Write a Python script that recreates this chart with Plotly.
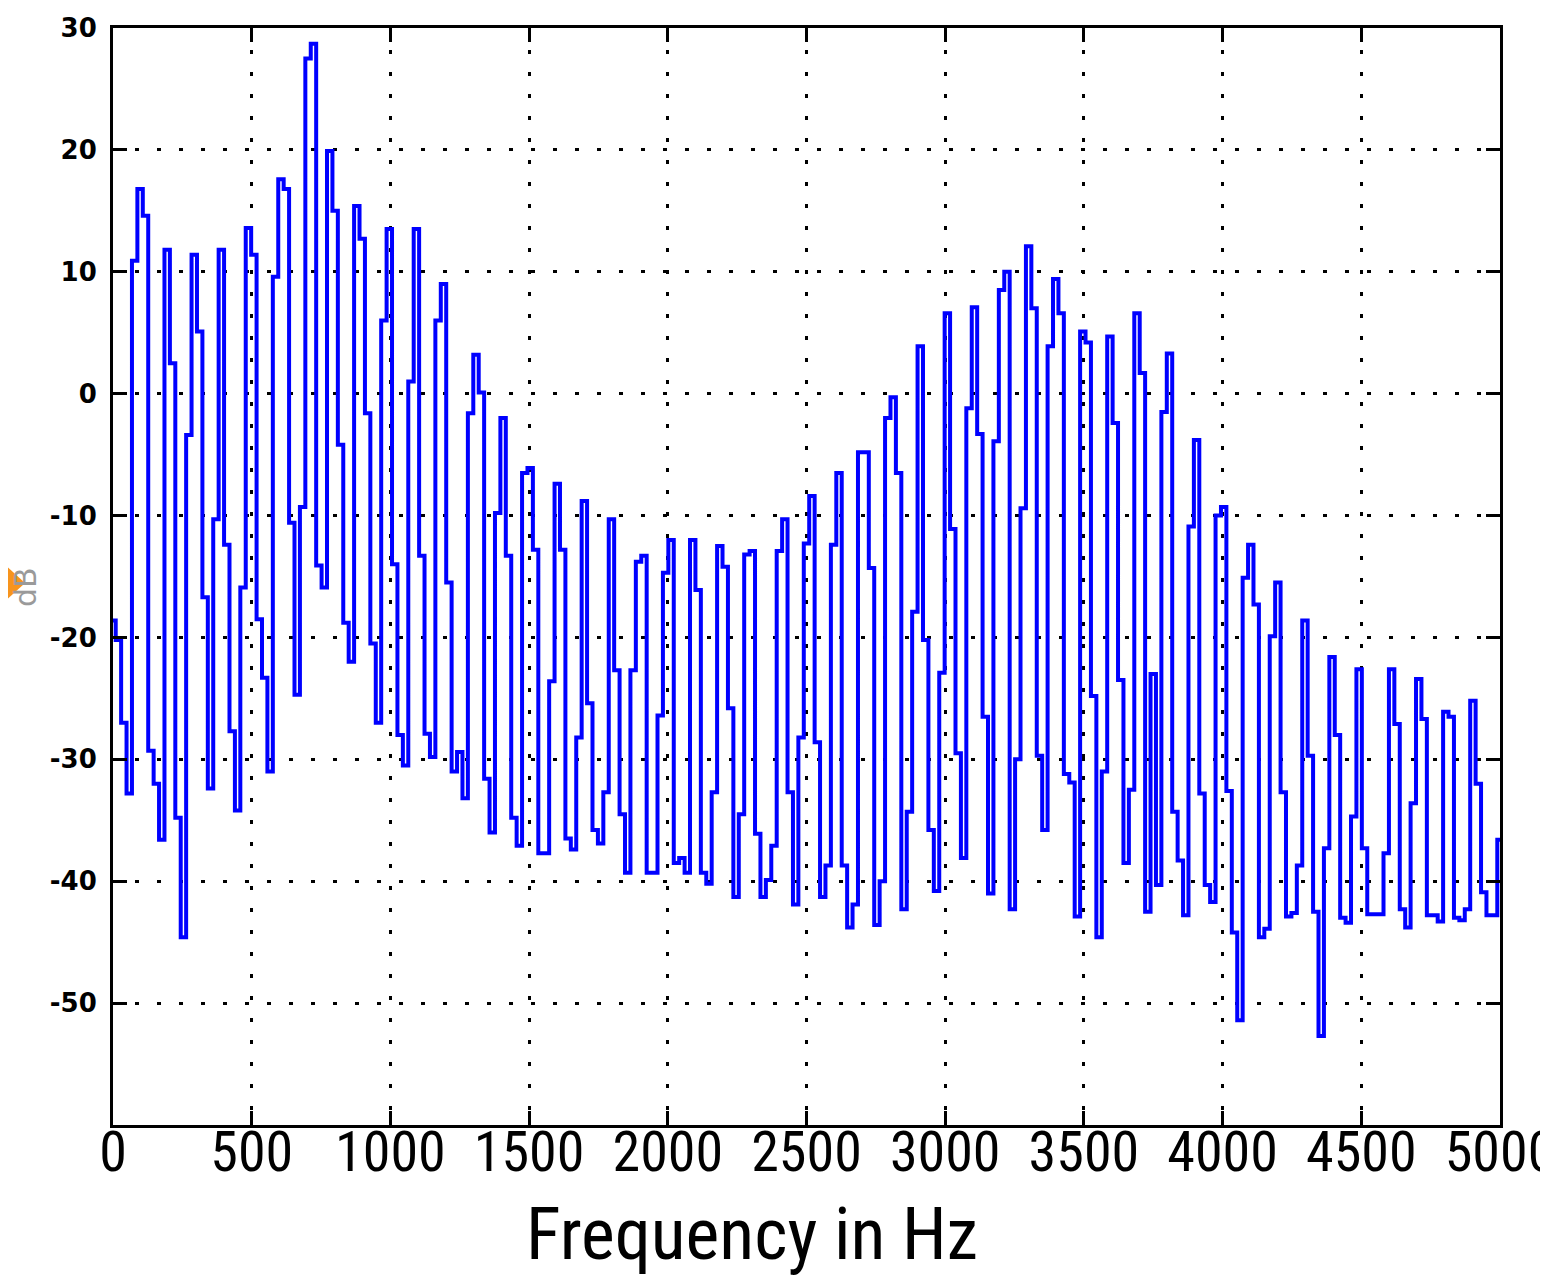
import numpy as np
import plotly.graph_objects as go

# Spectrum magnitude (dB), one value per FFT bin
# (bin spacing 5000/256 Hz), split into 1 kHz blocks.
db_0000_1000 = [
    -18.6, -20.2, -27.0, -32.8, 10.9, 16.8, 14.6, -29.3, -32.0, -36.6,
    11.8, 2.5, -34.8, -44.6, -3.4, 11.4, 5.1, -16.7, -32.4, -10.3,
    11.8, -12.4, -27.7, -34.2, -15.9, 13.6, 11.4, -18.5, -23.3, -31.0,
    9.6, 17.6, 16.8, -10.6, -24.7, -9.3, 27.5, 28.7, -14.1, -15.9,
    19.9, 15.0, -4.2, -18.8, -22.0, 15.4, 12.7, -1.6, -20.5, -27.0,
    6.0, 13.5,
]
db_1000_2000 = [
    -14.0, -28.0, -30.5, 1.0, 13.5, -13.3, -27.9, -29.8,
    6.0, 9.0, -15.5, -31.0, -29.4, -33.2, -1.6, 3.2, 0.1, -31.6,
    -36.0, -9.8, -2.0, -13.3, -34.8, -37.1, -6.5, -6.1, -12.8, -37.7,
    -37.7, -23.6, -7.4, -12.8, -36.5, -37.4, -28.2, -8.8, -25.4, -35.8,
    -36.9, -32.7, -10.3, -22.7, -34.5, -39.3, -22.7, -13.8, -13.3, -39.3,
    -39.3, -26.4, -14.7,
]
db_2000_3000 = [
    -12.0, -38.5, -38.1, -39.3, -12.0, -16.1, -39.3,
    -40.2, -32.7, -12.5, -14.2, -25.8, -41.3, -34.5, -13.2, -12.9, -36.1,
    -41.3, -39.9, -37.1, -12.9, -10.3, -32.7, -41.9, -28.2, -12.3, -8.4,
    -28.6, -41.3, -38.7, -12.4, -6.5, -38.7, -43.8, -41.9, -4.8, -4.8,
    -14.3, -43.6, -40.0, -2.0, -0.3, -6.5, -42.3, -34.3, -17.9, 3.9,
    -20.2, -35.8, -40.8, -22.9,
]
db_3000_4000 = [
    6.6, -11.1, -29.5, -38.1, -1.2, 7.1,
    -3.3, -26.5, -41.0, -3.9, 8.5, 10.0, -42.3, -30.0, -9.4, 12.1,
    7.0, -29.7, -35.8, 3.9, 9.4, 6.6, -31.2, -31.9, -42.9, 5.1,
    4.2, -24.8, -44.6, -31.0, 4.7, -2.4, -23.5, -38.5, -32.5, 6.6,
    1.7, -42.5, -23.0, -40.3, -1.5, 3.3, -34.3, -38.3, -42.8, -10.9,
    -3.8, -32.8, -40.3, -41.7, -10.0,
]
db_4000_5000 = [
    -9.3, -32.6, -44.2, -51.4, -15.1,
    -12.4, -17.3, -44.6, -43.9, -19.9, -15.5, -32.7, -42.9, -42.6, -38.7,
    -18.6, -29.7, -42.5, -52.7, -37.3, -21.6, -28.0, -43.0, -43.4, -34.7,
    -22.6, -37.3, -42.7, -42.7, -42.7, -37.7, -22.6, -27.1, -42.3, -43.8,
    -33.6, -23.4, -26.7, -42.8, -42.8, -43.3, -26.1, -26.5, -43.0, -43.2,
    -42.3, -25.2, -32.0, -40.9, -42.8, -42.8, -36.6,
]

fs_half = 5000.0      # upper frequency (Hz)
n_fft_half = 256      # bins up to fs/2

x_ticks = [0, 500, 1000, 1500, 2000, 2500, 3000, 3500, 4000, 4500, 5000]
y_ticks = [30, 20, 10, 0, -10, -20, -30, -40, -50]
x_title = "Frequency in Hz"
y_title = "dB"

level_db = db_0000_1000 + db_1000_2000 + db_2000_3000 + db_3000_4000 + db_4000_5000
assert len(level_db) == n_fft_half + 1
freq_hz = np.arange(len(level_db)) * fs_half / n_fft_half

fig = go.Figure(
    go.Scatter(x=freq_hz, y=level_db, mode="lines",
               line=dict(color="#0000ff", width=4, shape="hvh"), hoverinfo="skip")
)

narrow = "Liberation Sans Narrow, Arial Narrow, Roboto Condensed, Liberation Sans, sans-serif"

axis_common = dict(
    showline=True, linewidth=3, linecolor="black", mirror="allticks",
    ticks="inside", ticklen=14, tickwidth=3, tickcolor="black",
    showgrid=True, gridcolor="black", gridwidth=3, griddash="4px,18px",
    zeroline=False, automargin=False, ticklabeloverflow="allow",
)

fig.update_layout(
    width=1540, height=1269,
    margin=dict(l=105, r=48, t=20, b=152),
    paper_bgcolor="white", plot_bgcolor="white",
    showlegend=False,
    xaxis=dict(range=[0, 5000], tickvals=x_ticks, ticktext=[str(v) for v in x_ticks],
               tickfont=dict(family=narrow, size=56, color="black"),
               ticklabelstandoff=-24, **axis_common),
    yaxis=dict(range=[-60, 30], tickvals=y_ticks, ticktext=[str(v) for v in y_ticks],
               tickfont=dict(family="DejaVu Sans", size=26, color="black", weight="bold"),
               ticklabelstandoff=8, **axis_common),
    annotations=[
        dict(text=x_title, xref="paper", yref="paper", x=0.4607, y=-0.100,
             xanchor="center", yanchor="middle", showarrow=False,
             font=dict(family=narrow, size=72, color="black")),
        dict(text=y_title, xref="paper", yref="paper", x=-0.063, y=0.49,
             xanchor="center", yanchor="middle", showarrow=False, textangle=-90,
             font=dict(family="DejaVu Sans", size=30, color="#9a9a9a")),
    ],
    shapes=[
        dict(type="path", xref="paper", yref="paper",
             path="M -0.0815,0.5150 L -0.0634,0.4941 L -0.0815,0.4732 Z",
             fillcolor="#f7941d", line=dict(width=0), layer="above"),
    ],
)

fig.write_html("out.html", config={"displayModeBar": False})
